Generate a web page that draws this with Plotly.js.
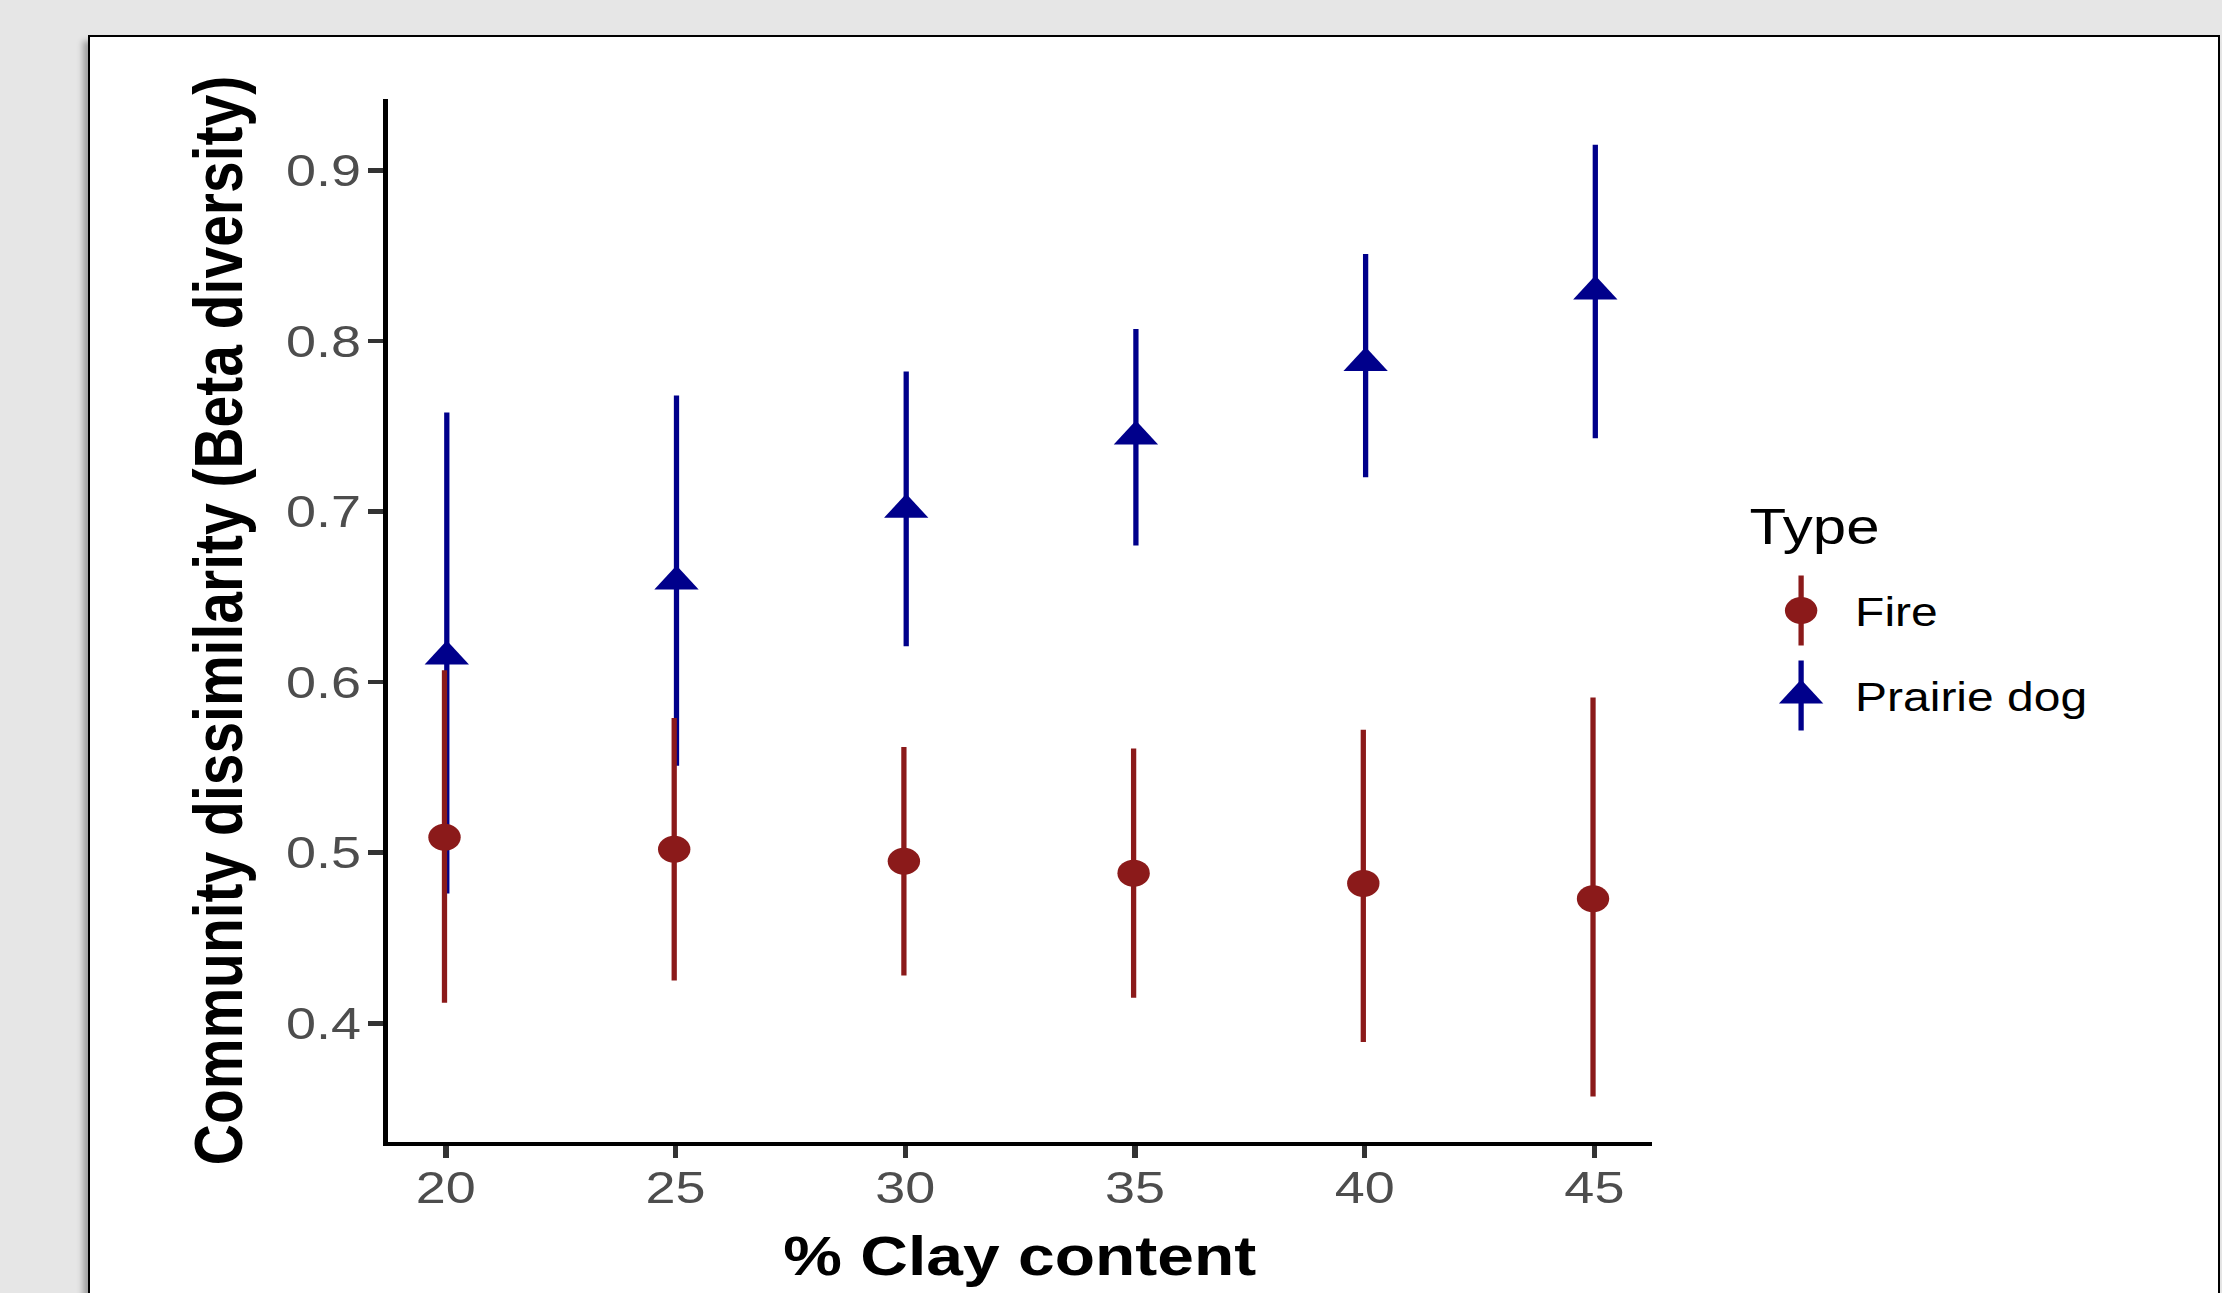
<!DOCTYPE html>
<html>
<head>
<meta charset="utf-8">
<script src="https://cdn.plot.ly/plotly-3.0.1.min.js"></script>
<style>
  html, body { margin: 0; padding: 0; background: #e6e6e6; overflow: hidden; width: 2222px; height: 1293px; }
  #panel { position: absolute; left: 88px; top: 35px; width: 2128px; height: 1300px; background: #ffffff;
           border: 2px solid #000; border-bottom: none; box-shadow: -5px 6px 6px rgba(0,0,0,0.30); }
  /* the reference figure is stretched horizontally by about 1.2 */
  #plot { position: absolute; left: 0; top: 0; width: 1852px; height: 1293px;
          transform: scaleX(1.19978); transform-origin: 0 0; }
</style>
</head>
<body>
<div id="panel"></div>
<div id="plot"></div>
<script>
// ---- data ----
const clay = [20, 25, 30, 35, 40, 45];
const fireMean  = [0.509, 0.502, 0.495, 0.488, 0.482, 0.473];
const fireLower = [0.412, 0.425, 0.428, 0.415, 0.389, 0.357];
const fireUpper = [0.607, 0.579, 0.562, 0.561, 0.572, 0.591];
const dogMean   = [0.615, 0.659, 0.701, 0.744, 0.787, 0.829];
const dogLower  = [0.476, 0.551, 0.621, 0.680, 0.720, 0.743];
const dogUpper  = [0.758, 0.768, 0.782, 0.807, 0.851, 0.915];
const seriesNames = ['Fire', 'Prairie dog'];
const legendTitle = 'Type';
const xTitle = '% Clay content';
const yTitle = 'Community dissimilarity (Beta diversity)';
const xTicks = [20, 25, 30, 35, 40, 45];
const yTicks = [0.4, 0.5, 0.6, 0.7, 0.8, 0.9];

// ---- styling ----
const FONT = 'Liberation Sans, Arial, sans-serif';
const RED = '#8B1A1A';
const BLUE = '#00008B';
const FIRE_SIZE = 27, DOG_SIZE = 32;
const DODGE_FIRE = -0.03, DODGE_DOG = 0.02;
const BAR_W = 4.4;

const dogTrace = {
  type: 'scatter', mode: 'markers', name: seriesNames[1],
  x: clay.map(v => v + DODGE_DOG), y: dogMean,
  marker: { symbol: 'triangle-up', size: DOG_SIZE, color: BLUE, line: { width: 0 } },
  error_y: { type: 'data', symmetric: false,
             array: dogUpper.map((u, i) => u - dogMean[i]),
             arrayminus: dogLower.map((l, i) => dogMean[i] - l),
             color: BLUE, thickness: BAR_W, width: 0 },
  legendgroup: 'dog', legendrank: 2
};
const fireTrace = {
  type: 'scatter', mode: 'markers', name: seriesNames[0],
  x: clay.map(v => v + DODGE_FIRE), y: fireMean,
  marker: { symbol: 'circle', size: FIRE_SIZE, color: RED, line: { width: 0 } },
  error_y: { type: 'data', symmetric: false,
             array: fireUpper.map((u, i) => u - fireMean[i]),
             arrayminus: fireLower.map((l, i) => fireMean[i] - l),
             color: RED, thickness: BAR_W, width: 0 },
  legendgroup: 'fire', legendrank: 1
};

const layout = {
  width: 1852, height: 1293,
  paper_bgcolor: 'rgba(0,0,0,0)', plot_bgcolor: 'rgba(0,0,0,0)',
  margin: { l: 323.4, r: 475, t: 99, b: 151, pad: 0 },
  font: { family: FONT, color: '#000' },
  showlegend: true,
  xaxis: {
    range: [18.73, 46.256], tickvals: xTicks, ticktext: xTicks.map(String),
    showgrid: false, zeroline: false, showline: true, linecolor: '#000', linewidth: 4,
    ticks: 'outside', ticklen: 12, tickwidth: 4.4, tickcolor: '#333333',
    ticklabelstandoff: -9,
    tickfont: { family: FONT, size: 45, color: '#4D4D4D' },
    title: { text: xTitle, font: { family: FONT, size: 55, color: '#000', weight: 'bold' }, standoff: 26 },
    automargin: false
  },
  yaxis: {
    range: [0.3304, 0.9418], tickvals: yTicks, ticktext: yTicks.map(v => v.toFixed(1)),
    showgrid: false, zeroline: false, showline: true, linecolor: '#000', linewidth: 4,
    ticks: 'outside', ticklen: 12, tickwidth: 4.6, tickcolor: '#333333',
    ticklabelstandoff: -3,
    tickfont: { family: FONT, size: 45, color: '#4D4D4D' },
    title: { text: yTitle, font: { family: FONT, size: 57, color: '#000', weight: 'bold' }, standoff: 19 },
    automargin: false
  },
  legend: {
    xref: 'container', yref: 'container',
    x: 1456.2 / 1852, y: 1 - 479 / 1293, xanchor: 'left', yanchor: 'top',
    bgcolor: 'rgba(0,0,0,0)', borderwidth: 0,
    title: { text: legendTitle, font: { family: FONT, size: 50, color: '#000' } },
    font: { family: FONT, size: 40, color: '#000' },
    itemwidth: 80, tracegroupgap: 30, traceorder: 'grouped'
  }
};

const ITEM_SHIFT = 34; // extra room between legend title and keys

Plotly.newPlot('plot', [dogTrace, fireTrace], layout, { staticPlot: true, displayModeBar: false }).then(gd => {
  const ns = 'http://www.w3.org/2000/svg';
  gd.querySelectorAll('.legend .scrollbox').forEach(el => el.removeAttribute('clip-path'));
  gd.querySelectorAll('.legend .traces').forEach(tr => {
    const tt = tr.getAttribute('transform') || '';
    tr.setAttribute('transform', tt + ' translate(0,' + ITEM_SHIFT + ')');
    const pt = tr.querySelector('path.scatterpts');
    if (!pt) return;
    const name = (tr.textContent || '').trim();
    const isFire = name === seriesNames[0];
    const size = isFire ? FIRE_SIZE : DOG_SIZE;
    const col = isFire ? RED : BLUE;
    const t = pt.getAttribute('transform') || '';
    pt.setAttribute('transform', t + ' scale(' + (size / 16) + ')');
    const ln = document.createElementNS(ns, 'path');
    ln.setAttribute('d', 'M0,-35V35');
    ln.setAttribute('transform', t);
    ln.setAttribute('style', 'stroke:' + col + ';stroke-width:' + BAR_W + 'px;fill:none');
    pt.parentNode.insertBefore(ln, pt);
  });
});
</script>
</body>
</html>
